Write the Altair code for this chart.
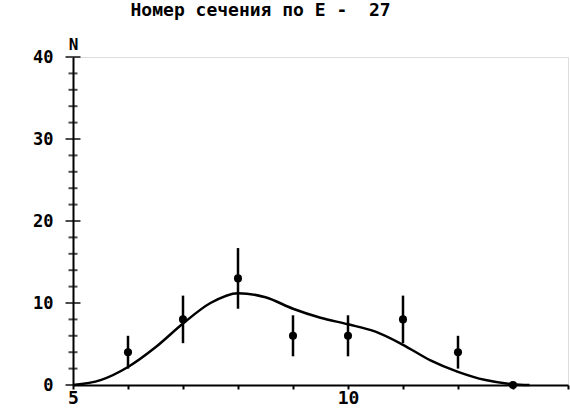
import altair as alt
import pandas as pd

# measured points
xs = [6, 7, 8, 9, 10, 11, 12, 13]
ns = [4, 8, 13, 6, 6, 8, 4, 0]
errs = [2.0, 2.9, 3.7, 2.5, 2.5, 2.9, 2.0, 0.0]

# fitted curve
cx = [5, 5.5, 6, 6.5, 7, 7.5, 8, 8.5, 9, 9.5, 10, 10.5, 11, 11.5, 12, 12.5, 13, 13.3]
cy = [0, 0.6, 2.2, 4.6, 7.5, 10.0, 11.2, 10.7, 9.3, 8.2, 7.4, 6.5, 4.9, 3.0, 1.6, 0.6, 0.1, 0]

# y-axis cross ticks
ytick_vals = list(range(0, 42, 2))
x_tick_vals = list(range(5, 15))
title_text = "Номер сечения по Е -\u00a0 27"

pts = pd.DataFrame({"x": xs, "n": ns, "err": errs})
pts["lo"] = pts["n"] - pts["err"]
pts["hi"] = pts["n"] + pts["err"]
curve = pd.DataFrame({"x": cx, "y": cy})
yt = pd.DataFrame({"y": ytick_vals, "x": [5] * len(ytick_vals),
                   "major": [v % 10 == 0 for v in ytick_vals]})

FONT = "DejaVu Sans Mono"
xscale = alt.Scale(domain=[5, 14], nice=False, zero=False)
yscale = alt.Scale(domain=[0, 40], nice=False)

xaxis = alt.Axis(values=x_tick_vals, format="d",
                 labelExpr="datum.value == 5 || datum.value == 10 ? datum.label : ''",
                 grid=False, domainColor="black", domainWidth=2, tickColor="black", tickWidth=2,
                 tickSize=4, labelFont=FONT, labelFontSize=18, labelFontWeight="bold",
                 labelColor="black", labelPadding=0, title=None, labelFlush=False)
yaxis = alt.Axis(values=[0, 10, 20, 30, 40], format="d", grid=False, domainColor="black", domainWidth=2,
                 ticks=False, labelFont=FONT, labelFontSize=17, labelFontWeight="bold",
                 labelColor="black", labelPadding=20, title="N", titleAngle=0, titleX=0, titleY=-5,
                 titleAlign="center", titleBaseline="bottom", titleFont=FONT, titleFontSize=16,
                 titleFontWeight="bold", titleColor="black")

line = alt.Chart(curve).mark_line(color="black", strokeWidth=2.5, interpolate="monotone").encode(
    x=alt.X("x:Q", scale=xscale, axis=xaxis),
    y=alt.Y("y:Q", scale=yscale, axis=yaxis),
)
bars = alt.Chart(pts).mark_rule(color="black", strokeWidth=2.5).encode(
    x="x:Q", y="lo:Q", y2="hi:Q")
dots = alt.Chart(pts).mark_point(filled=True, color="black", size=65, opacity=1).encode(
    x="x:Q", y="n:Q")
yticks_minor = alt.Chart(yt[~yt["major"]]).mark_tick(orient="horizontal", color="black",
                                                      thickness=2, size=9).encode(x="x:Q", y="y:Q")
yticks_major = alt.Chart(yt[yt["major"]]).mark_tick(orient="horizontal", color="black",
                                                     thickness=2, size=15).encode(x="x:Q", y="y:Q")

chart = alt.layer(line, bars, dots, yticks_minor, yticks_major).properties(
    width=495, height=328,
    title=alt.TitleParams(title_text, anchor="start", dx=98, offset=16, font=FONT, fontSize=18,
                          fontWeight="bold", color="black"),
    autosize="none",
    padding={"left": 73, "top": 57, "right": 2, "bottom": 29},
).configure_view(stroke=None).configure(background="white")

chart.save("out.html", embed_options={"renderer": "svg", "actions": False})
